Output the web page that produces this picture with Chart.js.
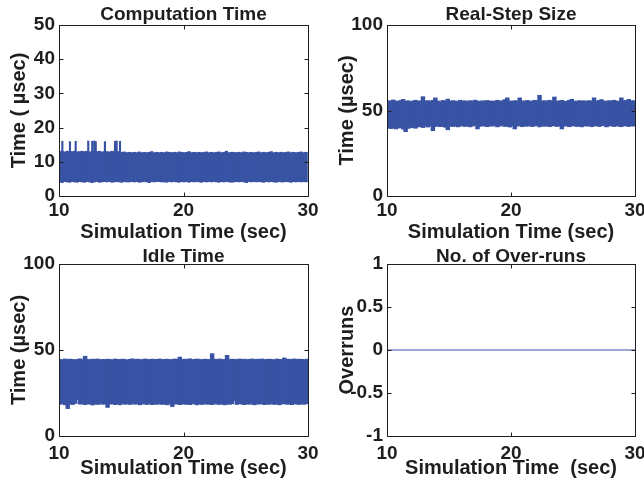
<!DOCTYPE html>
<html>
<head>
<meta charset="utf-8">
<script src="https://cdn.jsdelivr.net/npm/chart.js@4.4.1/dist/chart.umd.min.js"></script>
<style>
  body { margin: 0; background: #fff; }
  #wrap { position: relative; width: 644px; height: 485px; }
  #wrap canvas { position: absolute; left: 0; top: 0; }
</style>
</head>
<body>
<div id="wrap">
  <canvas id="comp" width="644" height="485"></canvas>
  <canvas id="step" width="644" height="485"></canvas>
  <canvas id="idle" width="644" height="485"></canvas>
  <canvas id="over" width="644" height="485"></canvas>
</div>
<script>
// x ticks shared by all four panels (seconds)
const xTicks = [10, 20, 30];
const binWidth = 0.2; // each bar = one 0.2 s bin, min/max of the samples in it

// Computation time (usec): min / max per bin
const compHi = [
  12.8,12.9,12.7,12.9,12.8,12.8,12.9,12.7,12.8,12.9,
  12.8,12.9,12.7,12.8,12.9,12.8,12.9,12.7,12.8,12.8,
  12.7,12.9,12.8,12.7,12.8,12.6,12.7,12.5,12.6,12.5,
  12.6,12.5,12.7,12.5,12.6,12.5,12.6,12.8,12.5,12.6,
  12.5,12.6,12.5,12.7,12.6,12.5,12.6,12.5,12.7,12.6,
  12.5,12.6,12.8,12.5,12.6,12.5,12.6,12.5,12.6,12.7,
  12.5,12.6,12.5,12.6,12.7,12.5,12.6,12.9,12.5,12.6,
  12.6,12.5,12.6,12.5,12.7,12.6,12.5,12.6,12.5,12.6,
  12.7,12.5,12.6,12.5,12.6,12.8,12.5,12.6,12.5,12.6,
  12.5,12.6,12.7,12.5,12.6,12.5,12.6,12.7,12.5,12.6
];
const compLo = [
  4.3,4.1,4.4,4.3,4.2,4.4,4.3,4.2,4.4,4.3,
  4.2,4.4,4.3,4.1,4.3,4.4,4.2,4.3,4.4,4.3,
  4.4,4.2,4.3,4.4,4.3,4.2,4.4,4.3,4.3,4.4,
  4.3,4.4,4.2,4.3,4.4,4.3,4.1,4.4,4.3,4.4,
  4.4,4.3,4.3,4.2,4.4,4.3,4.4,4.3,4.2,4.4,
  4.3,4.4,4.2,4.4,4.3,4.4,4.3,4.2,4.4,4.3,
  4.4,4.3,4.4,4.3,4.2,4.4,4.3,4.4,4.3,4.2,
  4.3,4.4,4.3,4.4,4.3,4.1,4.4,4.3,4.4,4.3,
  4.4,4.3,4.2,4.4,4.3,4.4,4.3,4.2,4.4,4.3,
  4.3,4.4,4.3,4.2,4.4,4.3,4.4,4.3,4.4,4.3
];
// isolated long computation samples in the first five seconds
const compPeakTimes = [10.27, 10.88, 11.34, 12.35, 12.67, 12.83, 12.95, 13.69, 14.50, 14.63, 14.90];
const compPeakHi = [16.0, 15.9, 16.0, 16.1, 16.0, 16.1, 15.9, 15.9, 16.0, 16.1, 16.0];
const compPeakBase = 12.6;

// Real step size (usec)
const stepHi = [
  55.4,55.0,55.8,55.2,54.9,55.5,56.1,55.1,55.3,54.8,
  55.2,55.6,55.0,55.3,57.7,55.1,55.4,54.9,55.6,57.0,
  55.2,54.8,55.5,55.1,56.3,55.0,55.4,55.2,54.9,55.6,
  55.1,55.3,54.8,55.4,55.0,55.7,55.2,54.9,55.3,55.1,
  55.5,55.0,55.2,54.9,55.6,55.1,55.3,56.0,57.0,55.2,
  55.0,55.4,55.1,57.0,55.3,54.9,55.5,55.2,55.0,55.6,
  55.3,58.5,55.1,55.4,54.9,55.6,55.2,57.5,55.0,55.3,
  55.5,55.1,55.0,55.6,56.2,55.2,54.9,55.4,55.1,55.3,
  55.0,55.4,55.2,57.0,55.1,55.5,56.0,55.2,54.9,55.4,
  55.1,55.6,55.2,55.0,57.0,55.3,55.5,56.1,55.2,55.4
];
const stepLo = [
  40.2,39.8,40.5,39.6,40.1,40.4,39.5,38.0,39.9,40.3,
  40.6,40.0,40.8,41.0,40.4,41.2,40.7,41.3,38.6,41.0,
  41.4,40.9,41.2,40.6,39.1,41.3,41.0,41.5,40.8,41.2,
  41.6,41.0,41.4,40.8,41.3,41.7,39.6,41.1,41.5,41.2,
  40.9,41.5,41.2,41.6,40.8,41.3,41.7,41.0,41.4,40.7,
  41.5,39.6,41.2,41.6,40.9,41.4,41.1,41.7,41.0,41.3,
  41.6,40.8,41.4,41.1,41.7,40.9,41.3,41.5,41.0,41.4,
  39.6,41.2,41.5,40.9,41.3,41.6,41.0,41.4,40.8,41.5,
  41.2,41.6,40.9,41.3,41.5,41.0,41.4,41.7,40.8,41.3,
  41.5,41.0,41.4,41.2,40.9,41.6,41.3,41.0,41.5,41.2
];

// Idle time (usec)
const idleHi = [
  44.2,43.9,44.4,44.0,44.3,44.1,43.8,44.2,44.5,44.0,
  46.0,44.2,43.9,44.3,44.1,44.4,43.8,44.2,44.0,44.3,
  44.1,43.9,44.4,44.2,44.0,44.3,44.1,43.8,44.2,44.5,
  44.0,44.3,44.1,43.9,44.4,44.2,44.0,44.3,44.1,44.2,
  44.4,44.0,44.2,44.3,43.9,44.1,44.4,44.2,45.5,44.0,
  44.3,44.1,44.5,44.0,44.2,44.4,44.1,43.9,44.3,44.2,
  44.0,47.5,44.3,44.1,44.4,44.0,44.2,46.5,44.1,44.3,
  44.2,44.0,44.4,44.1,44.3,43.9,44.2,44.4,44.0,44.3,
  44.1,44.4,44.0,44.2,44.3,44.1,43.9,44.4,44.2,44.0,
  45.0,44.2,44.3,44.0,44.4,44.1,44.3,44.2,43.9,44.3
];
const idleLo = [
  18.8,19.2,18.5,16.3,19.0,18.7,19.3,21.5,18.9,19.1,
  18.6,19.2,18.9,18.4,19.1,18.7,19.3,18.8,19.0,17.0,
  18.9,19.2,18.6,19.0,18.5,19.3,18.8,19.1,18.7,19.2,
  18.8,19.1,18.5,19.2,18.9,18.7,19.3,18.6,19.0,18.8,
  19.2,18.7,19.0,18.5,19.3,17.5,18.9,19.1,18.6,19.2,
  18.8,19.0,18.6,19.3,18.9,18.5,19.1,18.7,19.2,18.8,
  19.0,18.6,19.3,18.9,18.7,19.2,18.5,19.0,18.8,19.1,
  21.0,18.7,19.2,18.9,18.6,19.1,18.8,19.3,18.5,19.0,
  18.9,19.2,18.6,19.0,18.8,19.3,18.7,19.1,18.5,19.0,
  19.2,18.8,19.0,18.6,19.3,18.9,18.7,19.1,18.8,19.2
];

// Over-runs: none during the run
const overTimes = [10, 30];
const overCounts = [0, 0];

const BLUE = "rgb(57,83,164)";
const INK = "#1e1e1e";
const Y_W = 52;       // width given to each y axis (title + tick labels)
const TITLE_H = 24.8; // 19px title * 1.2 + 2 padding

Chart.defaults.font.family = "'Liberation Sans', Arial, sans-serif";
Chart.defaults.font.weight = "bold";
Chart.defaults.color = INK;

// MATLAB style box with inward ticks on all four sides
const boxTicks = {
  id: "boxTicks",
  afterDraw(chart) {
    const { ctx, chartArea: a, scales } = chart;
    const snap = v => Math.round(v) + 0.5;
    const l = snap(a.left), r = snap(a.right), t = snap(a.top), b = snap(a.bottom);
    ctx.save();
    ctx.strokeStyle = INK;
    ctx.lineWidth = 1;
    ctx.strokeRect(l, t, r - l, b - t);
    ctx.beginPath();
    scales.x.ticks.forEach(tk => {
      const px = snap(scales.x.getPixelForValue(tk.value));
      ctx.moveTo(px, b); ctx.lineTo(px, b - 4);
      ctx.moveTo(px, t); ctx.lineTo(px, t + 4);
    });
    scales.y.ticks.forEach(tk => {
      const py = snap(scales.y.getPixelForValue(tk.value));
      ctx.moveTo(l, py); ctx.lineTo(l + 4, py);
      ctx.moveTo(r, py); ctx.lineTo(r - 4, py);
    });
    ctx.stroke();
    ctx.restore();
  }
};

function bandSet(lo, hi) {
  return [{
    data: lo.map((v, i) => ({ x: 10 + binWidth * (i + 0.5), y: [v, hi[i]] })),
    backgroundColor: BLUE,
    borderWidth: 0,
    barPercentage: 1,
    categoryPercentage: 1,
    inflateAmount: 1
  }];
}

function panel(id, box, p) {
  const xH = box.xH;
  return new Chart(document.getElementById(id), {
    type: p.type,
    data: { datasets: p.datasets },
    options: {
      responsive: false,
      animation: false,
      events: [],
      layout: {
        padding: {
          left: box.left - Y_W,
          right: 644 - box.right,
          top: box.top - TITLE_H,
          bottom: 485 - box.bottom - xH
        }
      },
      plugins: {
        legend: { display: false },
        tooltip: { enabled: false },
        title: {
          display: true, text: p.title, fullSize: false, color: INK,
          font: { size: 19, weight: "bold" },
          padding: { top: box.titleShift, bottom: 2 - box.titleShift }
        }
      },
      scales: {
        x: {
          type: "linear", min: 10, max: 30, offset: false,
          afterBuildTicks: s => { s.ticks = xTicks.map(v => ({ value: v })); },
          grid: { display: false, drawTicks: false },
          border: { display: false },
          ticks: { font: { size: 19 }, padding: box.tickPad, maxRotation: 0, autoSkip: false },
          title: { display: true, text: p.xTitle, font: { size: 20 }, padding: 0 },
          afterFit: s => { s.height = xH; s.paddingLeft = 0; s.paddingRight = 0; }
        },
        x2: {
          type: "linear", min: 10, max: 30, offset: false, display: false
        },
        y: {
          min: p.yMin, max: p.yMax,
          grid: { display: false, drawTicks: false },
          border: { display: false },
          ticks: { stepSize: p.yStep, font: { size: 19 }, padding: 4, callback: v => String(v) },
          title: { display: true, text: p.yTitle, font: { size: 20 }, padding: 0 },
          afterFit: s => { s.width = Y_W; s.paddingTop = 0; s.paddingBottom = 0; }
        }
      }
    },
    plugins: [boxTicks]
  });
}

const topRow = { top: 25, bottom: 196, xH: 48, tickPad: 3, titleShift: 3 };
const bottomRow = { top: 264, bottom: 436, xH: 44, tickPad: 6, titleShift: 6 };

panel("comp", { ...topRow, left: 59, right: 308 }, {
  type: "bar", title: "Computation Time",
  xTitle: "Simulation Time (sec)", yTitle: "Time ( \u00b5sec)",
  yMin: 0, yMax: 50, yStep: 10,
  datasets: bandSet(compLo, compHi).concat([{
    xAxisID: "x2",
    data: compPeakTimes.map((t, i) => ({ x: t, y: [compPeakBase, compPeakHi[i]] })),
    backgroundColor: BLUE,
    borderWidth: 0,
    barThickness: 1.5,
    grouped: false
  }])
});

panel("step", { ...topRow, left: 387, right: 635 }, {
  type: "bar", title: "Real-Step Size",
  xTitle: "Simulation Time (sec)", yTitle: "Time (\u00b5sec)",
  yMin: 0, yMax: 100, yStep: 50,
  datasets: bandSet(stepLo, stepHi)
});

panel("idle", { ...bottomRow, left: 59, right: 308 }, {
  type: "bar", title: "Idle Time",
  xTitle: "Simulation Time (sec)", yTitle: "Time (\u00b5sec)",
  yMin: 0, yMax: 100, yStep: 50,
  datasets: bandSet(idleLo, idleHi)
});

panel("over", { ...bottomRow, left: 387, right: 635 }, {
  type: "line", title: "No. of Over-runs",
  xTitle: "Simulation Time  (sec)", yTitle: "Overruns",
  yMin: -1, yMax: 1, yStep: 0.5,
  datasets: [{
    data: overTimes.map((t, i) => ({ x: t, y: overCounts[i] })),
    borderColor: BLUE, borderWidth: 1, pointRadius: 0
  }]
});
</script>
</body>
</html>
